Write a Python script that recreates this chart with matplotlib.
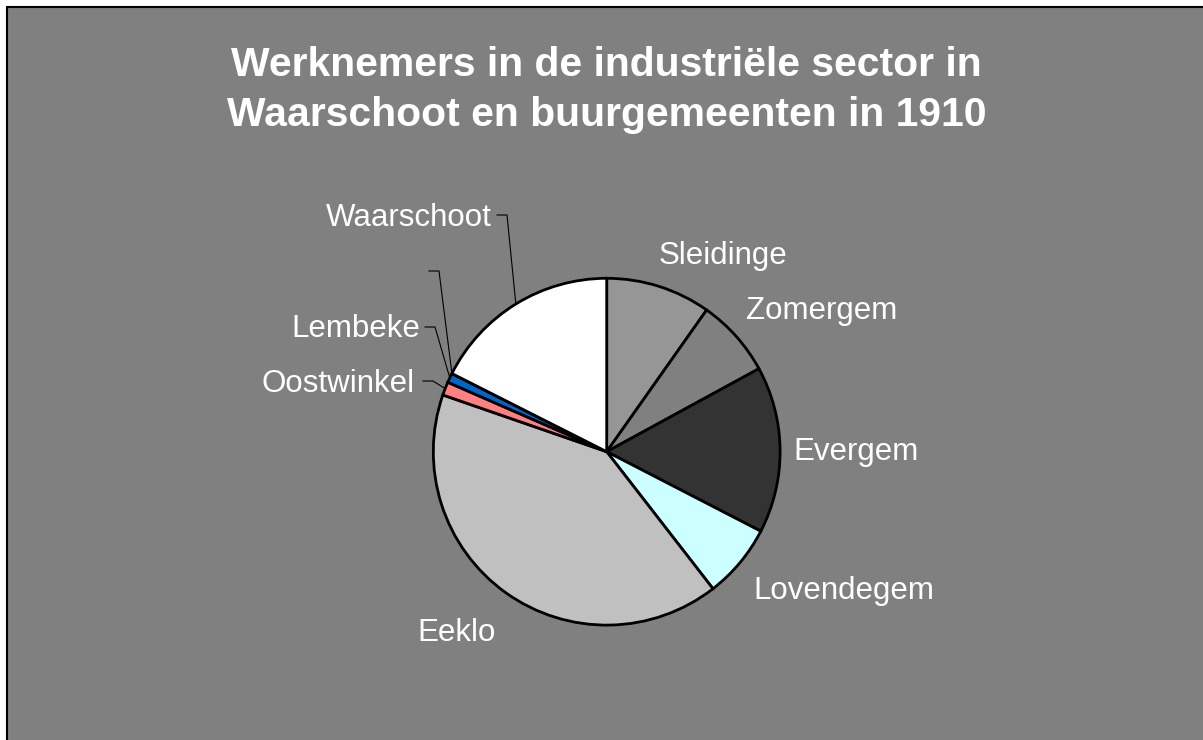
import numpy as np
import matplotlib.pyplot as plt
from matplotlib.patches import Rectangle

plt.rcParams['font.family'] = ['Liberation Sans', 'DejaVu Sans']

# Werknemers per gemeente (industrie, 1910)
gemeenten = ['Sleidinge', 'Zomergem', 'Evergem', 'Lovendegem', 'Eeklo',
             'Oostwinkel', 'Lembeke', '', 'Waarschoot']
werknemers = [352, 262, 559, 249, 1469, 45, 32, 0, 632]
kleuren = ['#969696', '#808080', '#333333', '#CCFFFF', '#C0C0C0',
           '#FF8080', '#0066CC', '#FFFF99', '#FFFFFF']

W, H = 1203, 740


def py(y):
    # pixelrij (van boven) naar y-coordinaat
    return H - y


fig = plt.figure(figsize=(W / 100, H / 100), dpi=100)
fig.patch.set_facecolor('white')
ax = fig.add_axes([0, 0, 1, 1])

# grijze achtergrond van de grafiek
ax.add_patch(Rectangle((7, -10), W + 10, H - 7 + 10, facecolor='#808080',
                       edgecolor='black', linewidth=1.5, zorder=0))

cx, cy, r = 606.7, py(451.7), 173.4
wedges, _ = ax.pie(werknemers, colors=kleuren, startangle=90, counterclock=False,
                   center=(cx, cy), radius=r,
                   wedgeprops=dict(edgecolor='black', linewidth=2.0))
ax.set_xlim(0, W)
ax.set_ylim(0, H)
ax.axis('off')

# tekstposities: (x, basislijn, uitlijning)
labels = {
    'Sleidinge': (659, 264, 'left'),
    'Zomergem': (746, 319, 'left'),
    'Evergem': (793, 460, 'left'),
    'Lovendegem': (753, 599, 'left'),
    'Eeklo': (417, 641, 'left'),
    'Oostwinkel': (415, 392, 'right'),
    'Lembeke': (420, 337, 'right'),
    'Waarschoot': (492, 226, 'right'),
}
# verbindingslijnen voor de kleine stukken
knikken = {
    'Oostwinkel': ((423, 381), (433, 381)),
    'Lembeke': ((425, 327), (435, 327)),
    '': ((429, 271), (439, 271)),
    'Waarschoot': ((497, 215), (507, 215)),
}

for naam, w in zip(gemeenten, wedges):
    if naam in labels:
        x, y, ha = labels[naam]
        ax.text(x, py(y), naam, color='white', fontsize=22.5, ha=ha, va='baseline')
    if naam in knikken:
        hoek = np.deg2rad((w.theta1 + w.theta2) / 2)
        rx, ry = cx + r * np.cos(hoek), cy + r * np.sin(hoek)
        (x0, y0), (x1, y1) = knikken[naam]
        ax.plot([x0, x1, rx], [py(y0), py(y1), ry], color='black', lw=0.8)

ax.text(606, py(76), 'Werknemers in de industriële sector in', color='white',
        fontsize=29.4, fontweight='bold', ha='center', va='baseline')
ax.text(607, py(126), 'Waarschoot en buurgemeenten in 1910', color='white',
        fontsize=29.4, fontweight='bold', ha='center', va='baseline')

fig.savefig('out.png', dpi=100, facecolor=fig.get_facecolor())
